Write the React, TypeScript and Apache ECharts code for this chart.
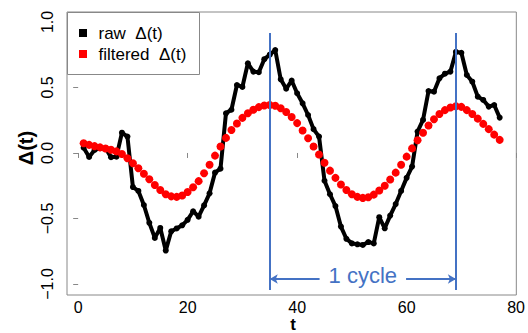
import React, { useEffect, useRef } from 'react';
import * as echarts from 'echarts';

// t = 1..77
const rawDelta = [
  0.04, -0.03, 0.023, 0.036, 0.036, -0.032, -0.028, 0.155, 0.125, -0.26,
  -0.29, -0.397, -0.533, -0.648, -0.572, -0.745, -0.598, -0.576, -0.552, -0.51,
  -0.445, -0.486, -0.4, -0.308, -0.15, -0.12, 0.303, 0.33, 0.519, 0.504,
  0.685, 0.621, 0.616, 0.716, 0.75, 0.786, 0.562, 0.49, 0.553, 0.456,
  0.379, 0.29, 0.182, 0.125, -0.212, -0.315, -0.405, -0.562, -0.655, -0.69,
  -0.697, -0.702, -0.68, -0.69, -0.49, -0.575, -0.478, -0.39, -0.29, -0.19,
  -0.104, 0.163, 0.252, 0.473, 0.468, 0.57, 0.605, 0.621, 0.771, 0.765,
  0.595, 0.544, 0.43, 0.405, 0.354, 0.366, 0.27,
];

const filteredDelta = [
  0.074, 0.062, 0.052, 0.043, 0.034, 0.024, 0.012, -0.008, -0.04, -0.078,
  -0.117, -0.158, -0.2, -0.244, -0.283, -0.315, -0.331, -0.335, -0.325, -0.298,
  -0.262, -0.215, -0.155, -0.09, -0.02, 0.05, 0.115, 0.175, 0.225, 0.268,
  0.303, 0.33, 0.35, 0.362, 0.366, 0.36, 0.342, 0.313, 0.274, 0.228,
  0.172, 0.112, 0.05, -0.012, -0.075, -0.135, -0.19, -0.24, -0.282, -0.315,
  -0.335, -0.343, -0.338, -0.318, -0.287, -0.25, -0.203, -0.15, -0.09, -0.028,
  0.035, 0.097, 0.155, 0.21, 0.258, 0.298, 0.327, 0.347, 0.356, 0.352,
  0.327, 0.297, 0.262, 0.222, 0.182, 0.14, 0.1,
];

const xTicks = [0, 20, 40, 60, 80];
const yTicks = [-1, -0.5, 0, 0.5, 1];
const seriesNames = ['raw Δ(t)', 'filtered Δ(t)'];
const legendLabels = ['raw\u00a0\u00a0Δ(t)', 'filtered\u00a0\u00a0Δ(t)'];
const seriesColors = ['#000000', '#ff0000'];
const cycleMarks = [35, 69];
const cycleLabel = '1 cycle';
const xTitle = 't';
const yTitle = 'Δ(t)';

export default function App() {
  const ref = useRef<HTMLDivElement>(null);

  useEffect(() => {
    const chart = echarts.init(ref.current!, null, { renderer: 'svg' });
    const FONT = "'Liberation Sans', Arial, sans-serif";
    const BLUE = '#4472C4';
    const GRAY = '#888888';
    const rawData = rawDelta.map((v, i) => [i + 1, v]);
    const filtData = filteredDelta.map((v, i) => [i + 1, v]);
    const lineTop = 0.916;
    const lineBottom = -1.046;
    const arrowY = -0.962;
    const arrowInnerL = 44.1;
    const arrowInnerR = 59.9;
    const [c0, c1] = cycleMarks;
    const fmtY = (v: number) => v.toFixed(1).replace('-', '\u2212');

    const legendGraphics: any[] = [
      {
        type: 'rect',
        shape: { x: 67.5, y: 12.5, width: 132, height: 62 },
        style: { fill: '#ffffff', stroke: GRAY, lineWidth: 1 },
        z: 100,
      },
    ];
    legendLabels.forEach((label, i) => {
      const cy = 33 + i * 21;
      legendGraphics.push({
        type: 'rect',
        shape: { x: 79, y: cy - 4, width: 8, height: 8 },
        style: { fill: seriesColors[i] },
        z: 101,
      });
      legendGraphics.push({
        type: 'text',
        x: 98.5,
        y: cy,
        z: 101,
        style: {
          text: label,
          font: `17px ${FONT}`,
          fill: '#000',
          textAlign: 'left',
          textVerticalAlign: 'middle',
        },
      });
    });

    chart.setOption({
      animation: false,
      backgroundColor: '#ffffff',
      textStyle: { fontFamily: FONT },
      grid: {
        left: 67,
        right: 9,
        top: 12,
        bottom: 38,
        show: true,
        borderColor: GRAY,
        borderWidth: 1,
        backgroundColor: 'transparent',
      },
      xAxis: {
        type: 'value',
        min: -2.04,
        max: 80.04,
        splitLine: { show: false },
        axisLine: { show: false },
        axisTick: {
          show: true,
          length: 5,
          lineStyle: { color: GRAY },
          customValues: xTicks,
        },
        axisLabel: {
          show: true,
          margin: 4,
          fontSize: 16,
          lineHeight: 16,
          color: '#000',
          fontFamily: FONT,
          customValues: xTicks,
        },
      },
      yAxis: {
        type: 'value',
        min: -1.084,
        max: 1.076,
        splitLine: { show: false },
        axisLine: { show: false },
        axisTick: {
          show: true,
          length: 5,
          lineStyle: { color: GRAY },
          customValues: yTicks,
        },
        axisLabel: {
          show: true,
          rotate: 90,
          margin: 12,
          fontSize: 16,
          color: '#000',
          fontFamily: FONT,
          customValues: yTicks,
          formatter: fmtY,
        },
      },
      graphic: [
        {
          type: 'text',
          x: 26,
          y: 148,
          rotation: Math.PI / 2,
          style: {
            text: yTitle,
            font: `bold 20px ${FONT}`,
            fill: '#000',
            textAlign: 'center',
            textVerticalAlign: 'middle',
          },
        },
        {
          type: 'text',
          x: 293,
          y: 333,
          style: {
            text: xTitle,
            font: `bold 17px ${FONT}`,
            lineHeight: 17,
            fill: '#000',
            textAlign: 'center',
            textVerticalAlign: 'bottom',
          },
        },
        ...legendGraphics,
      ],
      series: [
        {
          name: seriesNames[0],
          type: 'line',
          data: rawData,
          z: 2,
          symbol: 'circle',
          symbolSize: 6,
          showSymbol: true,
          showAllSymbol: true,
          lineStyle: { color: seriesColors[0], width: 4 },
          itemStyle: { color: seriesColors[0] },
          emphasis: { disabled: true },
        },
        {
          name: seriesNames[1],
          type: 'scatter',
          data: filtData,
          z: 3,
          symbol: 'circle',
          symbolSize: 8,
          itemStyle: { color: seriesColors[1], opacity: 1 },
          emphasis: { disabled: true },
        },
        {
          name: 'annotations',
          type: 'line',
          data: [],
          z: 5,
          markLine: {
            silent: true,
            animation: false,
            symbolSize: [7, 8],
            label: { show: false },
            lineStyle: { color: BLUE, width: 2, type: 'solid' },
            emphasis: { disabled: true },
            data: [
              [
                { coord: [c0, lineTop], symbol: 'none' },
                { coord: [c0, lineBottom], symbol: 'none' },
              ],
              [
                { coord: [c1, lineTop], symbol: 'none' },
                { coord: [c1, lineBottom], symbol: 'none' },
              ],
              [
                { coord: [c0, arrowY], symbol: 'arrow' },
                { coord: [arrowInnerL, arrowY], symbol: 'none' },
              ],
              [
                { coord: [arrowInnerR, arrowY], symbol: 'none' },
                { coord: [c1, arrowY], symbol: 'arrow' },
              ],
            ],
          },
          markPoint: {
            silent: true,
            animation: false,
            symbol: 'circle',
            symbolSize: 0.01,
            itemStyle: { color: 'transparent' },
            label: {
              show: true,
              position: 'inside',
              offset: [0, -4],
              formatter: cycleLabel,
              color: BLUE,
              fontSize: 22,
              fontFamily: FONT,
            },
            data: [{ coord: [(c0 + c1) / 2, arrowY] }],
          },
        },
      ],
    });

    return () => chart.dispose();
  }, []);

  return (
    <div
      ref={ref}
      style={{ position: 'fixed', left: 0, top: 0, width: 528, height: 333 }}
    />
  );
}
